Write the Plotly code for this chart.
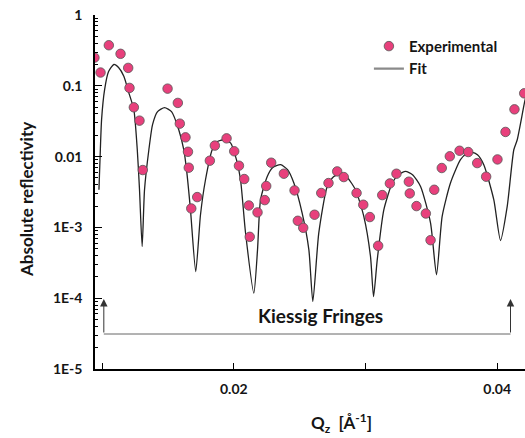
import plotly.graph_objects as go

# Experimental data: Qz (1/Å) and absolute reflectivity
exp_q = [0.00942, 0.00988, 0.01051, 0.01140, 0.01198, 0.01208, 0.01241, 0.01284, 0.01309,
         0.01497, 0.01575, 0.01590, 0.01633, 0.01652, 0.01658, 0.01677, 0.01722,
         0.01818, 0.01856, 0.01945, 0.02003, 0.02039, 0.02079, 0.02114, 0.02121,
         0.02180, 0.02235, 0.02246, 0.02284, 0.02380, 0.02461, 0.02486, 0.02527,
         0.02613, 0.02664, 0.02719, 0.02785, 0.02835, 0.02932, 0.02983, 0.03033,
         0.03096, 0.03127, 0.03185, 0.03235, 0.03329, 0.03336, 0.03387, 0.03458,
         0.03494, 0.03522, 0.03579, 0.03640, 0.03714, 0.03780, 0.03848, 0.03916,
         0.04002, 0.04063, 0.04131, 0.04205]
exp_r = [0.25, 0.154, 0.374, 0.283, 0.179, 0.0934, 0.0497, 0.0322, 0.00646,
         0.0912, 0.0573, 0.0292, 0.0187, 0.0117, 0.00697, 0.00185, 0.00268,
         0.00875, 0.0143, 0.0181, 0.0119, 0.00743, 0.00482, 0.00204, 0.000736,
         0.00163, 0.00243, 0.00384, 0.0082, 0.00573, 0.00333, 0.00124, 0.000987,
         0.00151, 0.00306, 0.00423, 0.00618, 0.00514, 0.00306, 0.00209, 0.0014,
         0.00055, 0.00286, 0.00418, 0.00573, 0.00442, 0.00302, 0.0020, 0.00157,
         0.00066, 0.0034, 0.0069, 0.0101, 0.0121, 0.0116, 0.0081, 0.0052,
         0.00912, 0.0223, 0.0465, 0.0783]

# Fit curve
fit_q = [0.00976, 0.00984, 0.00996, 0.01019, 0.01049, 0.01089, 0.01125, 0.01165, 0.01200,
         0.01241, 0.01267, 0.01284, 0.01304,
         0.01322, 0.01355, 0.01383, 0.01421, 0.01474, 0.01527, 0.01582, 0.01620, 0.01641,
         0.01671, 0.01711,
         0.01747, 0.01785, 0.01836, 0.01876, 0.01922, 0.01975, 0.02020, 0.02051, 0.02089,
         0.02152,
         0.02180, 0.02203, 0.02254, 0.02294, 0.02355, 0.02408, 0.02456, 0.02519, 0.02570,
         0.02600,
         0.02645, 0.02709, 0.02757, 0.02810, 0.02863, 0.02924, 0.02987, 0.03038, 0.03061,
         0.03089, 0.03139, 0.03203, 0.03251, 0.03304, 0.03357, 0.03418, 0.03494, 0.03539,
         0.03582, 0.03645, 0.03721, 0.03767, 0.03810, 0.03850, 0.03898, 0.03974, 0.04025,
         0.04076, 0.04126, 0.04152, 0.04207, 0.04238]
fit_r = [0.0034, 0.009, 0.0333, 0.0883, 0.159, 0.20, 0.181, 0.136, 0.0828,
         0.046, 0.0125, 0.0034, 0.000537,
         0.0034, 0.0125, 0.0283, 0.0432, 0.0492, 0.0432, 0.024, 0.0125, 0.00653,
         0.00177, 0.000238,
         0.00151, 0.00471, 0.0125, 0.0163, 0.0173, 0.0156, 0.00904, 0.00471, 0.000839,
         0.000118,
         0.000482, 0.00246, 0.00525, 0.00697, 0.00768, 0.00653, 0.00423, 0.00159, 0.000482,
         0.0000895,
         0.00083, 0.00379, 0.0052, 0.00573, 0.00503, 0.0034, 0.00143, 0.000387, 0.000105,
         0.000348, 0.00177, 0.00423, 0.00555, 0.00618, 0.00555, 0.00379, 0.00115, 0.000214,
         0.00143, 0.00423, 0.00904, 0.011, 0.0115, 0.0106, 0.00768, 0.00246, 0.000653,
         0.00198, 0.0125, 0.0173, 0.0578, 0.104]

y_tickvals = [1, 0.1, 0.01, 0.001, 0.0001, 0.00001]
y_ticktext = ["1", "0.1", "0.01", "1E-3", "1E-4", "1E-5"]
x_tickvals = [0.01, 0.02, 0.03, 0.04]
x_ticktext = ["", "0.02", "", "0.04"]

FONT = "Lato"
TXT = "#151515"

fig = go.Figure()
fig.add_trace(go.Scatter(
    x=fit_q, y=fit_r, mode="lines", name="Fit", showlegend=False,
    line=dict(color="#222222", width=1.3, shape="spline", smoothing=0.6),
))
# legend entry for the fit (drawn lighter/thicker in the legend, as in the reference)
fig.add_trace(go.Scatter(
    x=[None], y=[None], mode="lines", name="Fit",
    line=dict(color="#8a8a8a", width=2.2),
))
fig.add_trace(go.Scatter(
    x=exp_q, y=exp_r, mode="markers", name="Experimental",
    marker=dict(color="#E8407C", size=9.5, line=dict(color="#555555", width=0.8)),
))

minor_vals = [k * 10.0 ** e for e in range(-5, 0) for k in range(2, 10)]

fig.update_xaxes(
    range=[0.00946, 0.04211], showline=True, linecolor="black", linewidth=1.5,
    showgrid=False, zeroline=False, ticks="inside", ticklen=6, tickwidth=1.2,
    tickcolor="black", tickmode="array", tickvals=x_tickvals, ticktext=x_ticktext,
    tickfont=dict(family=FONT, size=14, color=TXT, weight="bold"), ticklabelstandoff=6,
)
fig.update_yaxes(
    type="log", range=[-5, 0], showline=True, linecolor="black", linewidth=1.5,
    showgrid=False, zeroline=False, ticks="inside", ticklen=7, tickwidth=1.2,
    tickcolor="black", tickmode="array", tickvals=y_tickvals, ticktext=y_ticktext,
    tickfont=dict(family=FONT, size=14, color=TXT, weight="bold"), ticklabelstandoff=8,
    minor=dict(tickmode="array", tickvals=minor_vals, ticks="inside", ticklen=3,
               tickwidth=1, tickcolor="black", showgrid=False),
)

fig.update_layout(
    width=525, height=438,
    margin=dict(l=95, r=0, t=15, b=69),
    paper_bgcolor="white", plot_bgcolor="white",
    showlegend=True,
    legend=dict(x=0.637, y=0.958, xanchor="left", yanchor="top",
                traceorder="reversed", bgcolor="rgba(0,0,0,0)",
                font=dict(family=FONT, size=15, color=TXT, weight="bold"),
                itemwidth=30, tracegroupgap=0),
    font=dict(family=FONT),
)

# Axis titles as annotations
fig.add_annotation(
    text="<b>Absolute reflectivity</b>", xref="paper", yref="paper",
    x=(26 - 95) / 430, y=1 - (200 - 15) / 354, xanchor="center", yanchor="middle",
    textangle=-90, showarrow=False,
    font=dict(family=FONT, size=17, color=TXT),
)
fig.add_annotation(
    text="<b>Q<sub>z</sub>  [Å<sup>-1</sup>]</b>", xref="paper", yref="paper",
    x=(341 - 95) / 430, y=-(423 - 369) / 354, xanchor="center", yanchor="middle",
    showarrow=False,
    font=dict(family=FONT, size=17, color=TXT),
)

# Kiessig fringes bracket
y_tip = 1 - (299 - 15) / 354
y_base = 1 - (334 - 15) / 354
x_left = 0.01013
x_right = 0.04101
fig.add_shape(type="line", xref="x", yref="paper", x0=x_left, x1=x_right,
              y0=y_base, y1=y_base, line=dict(color="#666", width=1))
for xa in (x_left, x_right):
    fig.add_annotation(x=xa, y=y_tip, xref="x", yref="paper", text="",
                       showarrow=True, ax=0, ay=35, arrowhead=2, arrowsize=1.5,
                       arrowwidth=1, arrowcolor="#333")
fig.add_annotation(
    text="<b>Kiessig Fringes</b>", xref="paper", yref="paper",
    x=(320 - 95) / 430, y=1 - (315 - 15) / 354, xanchor="center", yanchor="middle",
    showarrow=False,
    font=dict(family=FONT, size=19, color=TXT),
)

fig.write_html("out.html", config={"displayModeBar": False},
               post_script="document.body.style.margin='0';document.body.style.padding='0';")
